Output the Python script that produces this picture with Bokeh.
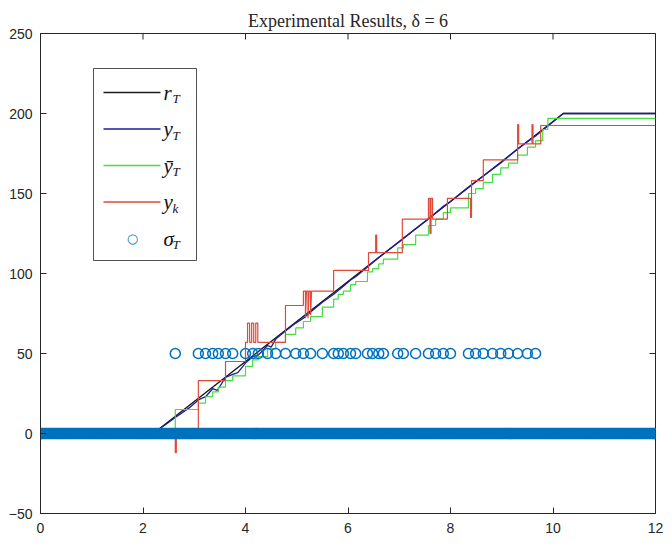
import numpy as np
from bokeh.plotting import figure
from bokeh.models import Range1d, FixedTicker, BoxAnnotation, Label, Arrow
from bokeh.embed import file_html
from bokeh.resources import INLINE

# ---------------- data ----------------
x_ticks = [0, 2, 4, 6, 8, 10, 12]
y_ticks = [-50, 0, 50, 100, 150, 200, 250]
x_lim = [0, 12]
y_lim = [-50, 250]

# reference r_T (breakpoints)
ref_t = [0, 2.2, 10.2, 12]
ref_y = [0, 0, 200, 200]

# output y_T
yT_t = [0, 2.2, 2.63, 2.9, 3.08, 3.22, 3.36, 3.45, 3.61, 3.75, 3.85, 4.0, 4.14, 4.25,
        4.43, 4.5, 4.59, 4.78, 4.98, 5.13, 5.27, 5.5, 5.72, 5.91, 6.05, 6.15, 6.38,
        6.6, 6.97, 7.32, 7.57, 7.86, 8.0, 8.35, 8.64, 8.98, 9.31, 9.66, 10.2, 12]
yT_y = [0, 0, 10, 16, 21, 23, 28, 27, 35, 37, 38, 44, 48, 49,
        55, 54, 59, 64, 69, 72, 76, 82, 87, 92, 96, 98, 104,
        110, 119, 128, 134, 142, 145, 154, 161, 169, 178, 186, 200, 200]

# held output ybar_T (step levels)
yb_t = [0, 2.63, 3.08, 3.22, 3.36, 3.47, 3.61, 3.75, 4.00, 4.14, 4.25, 4.43, 4.59, 4.78,
        4.98, 5.13, 5.27, 5.50, 5.72, 5.81, 5.91, 6.05, 6.15, 6.38, 6.48, 6.60, 6.69, 6.97,
        7.08, 7.32, 7.57, 7.71, 7.86, 8.00, 8.35, 8.49, 8.64, 8.82, 8.98, 9.13, 9.31, 9.50,
        9.66, 9.80, 9.90, 12]
yb_y = [0, 15, 19, 23, 26, 29, 33, 36, 42, 46, 48, 53, 57, 62,
        66, 70, 73, 79, 84, 87, 89, 93, 95, 101, 103, 106, 109, 116,
        118, 124, 130, 134, 138, 141, 150, 153, 157, 162, 166, 169, 174, 179,
        183, 190, 197, 197]

# sampled output y_k (polyline with spikes)
yk_t = [0, 2.63, 2.63, 2.65, 2.65, 3.08, 3.08, 3.61, 3.61, 4.00, 4.00,
        4.04, 4.04, 4.08, 4.08, 4.12, 4.12, 4.16, 4.16, 4.20, 4.20, 4.24, 4.24,
        4.78, 4.78, 5.13, 5.13,
        5.17, 5.17, 5.19, 5.22, 5.22, 5.24, 5.27, 5.27, 5.29,
        5.72, 5.72, 6.40, 6.40, 6.54, 6.54, 6.56, 6.56,
        7.06, 7.06, 7.57, 7.57, 7.60, 7.60, 7.62, 7.62, 7.65, 7.65,
        7.94, 7.94, 8.39, 8.39, 8.41, 8.41, 8.64, 8.64,
        9.31, 9.31, 9.33, 9.33, 9.59, 9.59, 9.61, 9.61, 9.76, 9.76, 12]
yk_y = [0, 0, -12, -12, 0, 0, 33, 33, 45, 45, 57,
        57, 69, 69, 57, 57, 69, 69, 57, 57, 69, 69, 57,
        57, 80, 80, 89,
        89, 72, 89, 89, 72, 89, 89, 74, 89,
        89, 102, 102, 113, 113, 124, 124, 113,
        113, 134, 134, 147, 147, 125, 125, 147, 147, 134,
        134, 147, 147, 135, 135, 158, 158, 171,
        171, 193, 193, 181, 181, 193, 193, 181, 181, 192.5, 192.5]

# event instants sigma_T (shown at level 50)
event_t = [2.63, 3.08, 3.22, 3.36, 3.47, 3.61, 3.75, 4.00, 4.14, 4.25, 4.43, 4.59, 4.78,
           4.98, 5.13, 5.27, 5.50, 5.72, 5.81, 5.91, 6.05, 6.15, 6.38, 6.48, 6.60, 6.69,
           6.97, 7.08, 7.32, 7.57, 7.71, 7.86, 8.00, 8.35, 8.49, 8.64, 8.82, 8.98, 9.13,
           9.31, 9.50, 9.66]
event_level = 50
sample_dt = 0.02  # sigma_T = 0 at all sample instants
sample_t = np.arange(0, 12 + 1e-9, sample_dt)

# ---------------- figure ----------------
AX = "#262626"
C_REF = "#1a1a1a"
C_YT = "#1c1ca0"
C_YB = "#44dd44"
C_YK = "#e04a3a"
C_SIG = "#0072BD"

FW, FH = 615, 480
TICK = 6

p = figure(frame_width=FW, frame_height=FH,
           x_range=Range1d(*x_lim), y_range=Range1d(*y_lim),
           output_backend="svg", toolbar_location=None,
           min_border_left=40, min_border_right=15, min_border_top=33, min_border_bottom=33,
           background_fill_color="white", border_fill_color="white")
p.grid.visible = False
p.outline_line_color = AX

p.title.text = "Experimental Results, \u03b4 = 6"
p.title.align = "center"
p.title.text_font = "Liberation Serif"
p.title.text_font_size = "18px"
p.title.text_font_style = "normal"
p.title.text_color = AX
p.title.standoff = 6

for ax in (p.xaxis[0], p.yaxis[0]):
    ax.axis_line_color = AX
    ax.major_tick_line_color = AX
    ax.minor_tick_line_color = None
    ax.major_tick_in = TICK
    ax.major_tick_out = 0
    ax.major_label_text_font = "Liberation Sans"
    ax.major_label_text_font_size = "14px"
    ax.major_label_text_color = AX
p.xaxis.ticker = FixedTicker(ticks=x_ticks)
p.yaxis.ticker = FixedTicker(ticks=y_ticks)
p.xaxis.major_label_standoff = 9
p.yaxis.major_label_standoff = 8

# inward ticks on the top and right box edges (MATLAB "box on")
dy_tick = TICK * (y_lim[1] - y_lim[0]) / FH
dx_tick = TICK * (x_lim[1] - x_lim[0]) / FW
p.segment(x0=x_ticks, y0=[y_lim[1]] * len(x_ticks), x1=x_ticks,
          y1=[y_lim[1] - dy_tick] * len(x_ticks), line_color=AX, line_width=1)
p.segment(x0=[x_lim[1]] * len(y_ticks), y0=y_ticks, x1=[x_lim[1] - dx_tick] * len(y_ticks),
          y1=y_ticks, line_color=AX, line_width=1)

# lines
p.line(ref_t, ref_y, line_color=C_REF, line_width=1.4)
p.line(yT_t, yT_y, line_color=C_YT, line_width=1.3)
p.step(yb_t, yb_y, mode="after", line_color=C_YB, line_width=1.2)
p.line(yk_t, yk_y, line_color=C_YK, line_width=1.2)
# sigma markers
p.scatter(sample_t, np.zeros_like(sample_t), marker="circle", size=10,
          fill_alpha=0, line_color=C_SIG, line_width=1.5)
p.scatter(event_t, [event_level] * len(event_t), marker="circle", size=10,
          fill_alpha=0, line_color=C_SIG, line_width=1.5)

# ---------------- manual legend (screen units, relative to frame) ----------------
L_left, L_right, L_top, L_bottom = 53, 156, 445, 253
p.add_layout(BoxAnnotation(left=L_left, right=L_right, top=L_top, bottom=L_bottom,
                           left_units="screen", right_units="screen",
                           top_units="screen", bottom_units="screen",
                           fill_color="white", fill_alpha=1.0,
                           line_color=AX, line_width=1, line_alpha=0.8))
entries = [("r", "T", C_REF), ("y", "T", C_YT), ("\u0233", "T", C_YB),
           ("y", "k", C_YK), ("\u03c3", "T", C_SIG)]
y0, dy = 421, 36.5
for i, (main, sub, col) in enumerate(entries):
    yy = y0 - i * dy
    if i < 4:
        p.add_layout(Arrow(x_start=63, y_start=yy, x_end=120, y_end=yy,
                           start_units="screen", end_units="screen", end=None,
                           line_color=col, line_width=1.4))
    else:
        p.add_layout(Label(x=92, y=yy, x_units="screen", y_units="screen", text="\u25cb",
                           text_font="DejaVu Sans", text_font_size="13px", text_color=col,
                           text_align="center", text_baseline="middle"))
    p.add_layout(Label(x=123, y=yy, x_units="screen", y_units="screen", text=main,
                       text_font="Liberation Serif", text_font_style="italic",
                       text_font_size="21px", text_color="#111111",
                       text_align="left", text_baseline="middle"))
    p.add_layout(Label(x=132, y=yy - 6, x_units="screen", y_units="screen", text=sub,
                       text_font="Liberation Serif", text_font_style="italic",
                       text_font_size="13px", text_color="#111111",
                       text_align="left", text_baseline="middle"))

open("out.html", "w").write(file_html(p, INLINE))
